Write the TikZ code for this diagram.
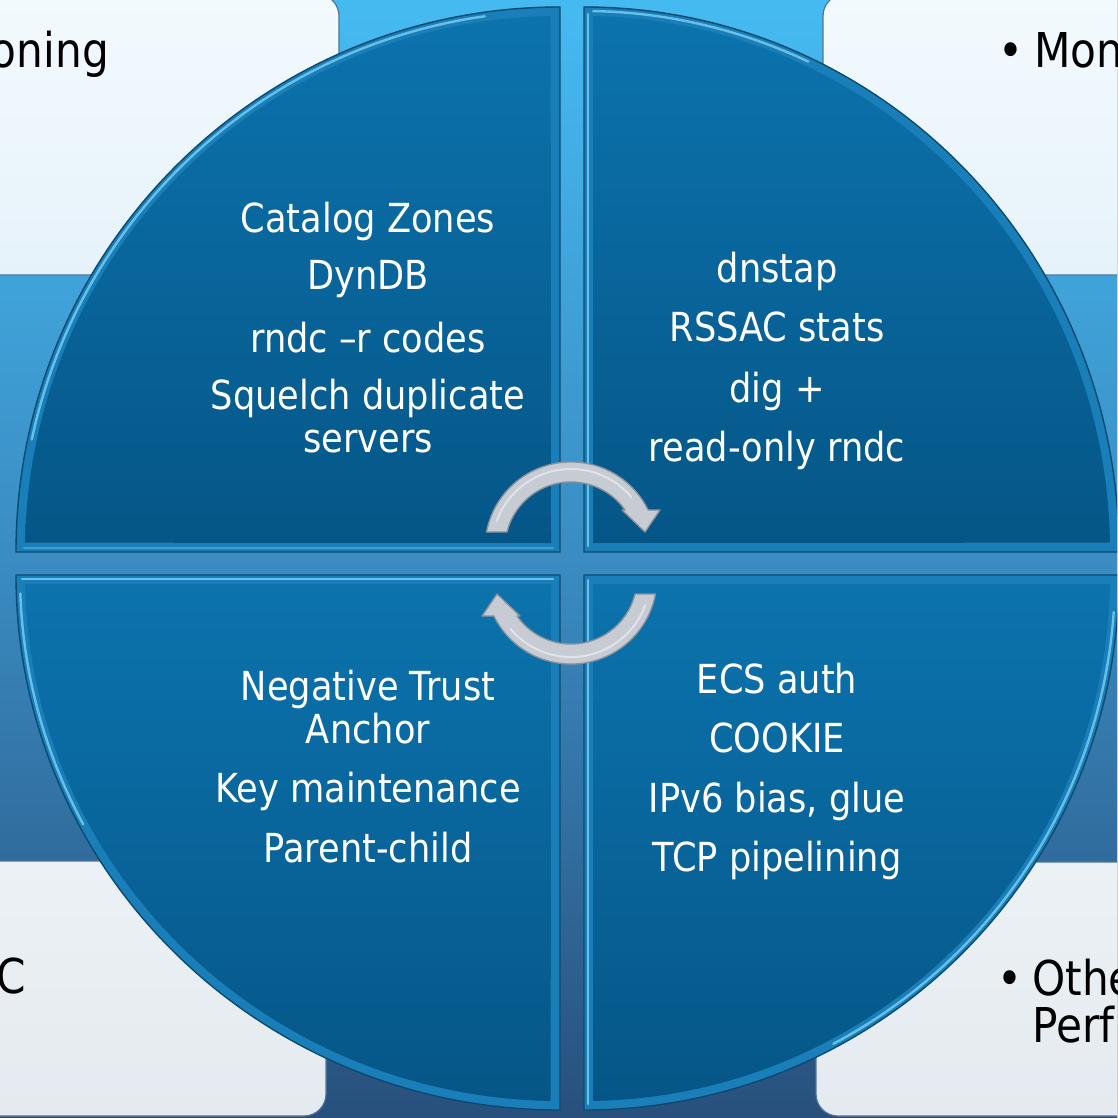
\documentclass[tikz,border=0pt]{standalone}
\usepackage{fontspec}
\setmainfont{DejaVu Sans}[FakeStretch=0.88]
\usetikzlibrary{calc}
\definecolor{bgtop}{HTML}{45BBF2}
\definecolor{bgmid}{HTML}{3A8CC2}
\definecolor{bgbot}{HTML}{284F7C}
\definecolor{boxtopA}{HTML}{F3FAFE}
\definecolor{boxtopB}{HTML}{E6F2FA}
\definecolor{boxbotA}{HTML}{ECF1F5}
\definecolor{boxbotB}{HTML}{E4EAEF}
\definecolor{boxline}{HTML}{4F7596}
\definecolor{qtop}{HTML}{0C73AD}
\definecolor{qbot}{HTML}{055687}
\definecolor{qbevel}{HTML}{1A7FB8}
\definecolor{qline}{HTML}{0A4A72}
\definecolor{qhl}{HTML}{7CCFF5}
\definecolor{arrfill}{HTML}{C7CCD4}
\definecolor{arrline}{HTML}{8A919B}
\begin{document}
\begin{tikzpicture}[x=1pt,y=-1pt,
  cornerbox/.style={rounded corners=22pt, draw=boxline, line width=1.2pt},
  boxup/.style={cornerbox, top color=boxtopA, bottom color=boxtopB},
  boxdown/.style={cornerbox, top color=boxbotA, bottom color=boxbotB},
  quadbevel/.style={fill=qbevel, draw=qline, line width=1.4pt},
  quadface/.style={top color=qtop, bottom color=qbot},
  hl/.style={draw=qhl, line width=2.4pt, line cap=round, opacity=0.8},
  arrowshape/.style={fill=arrfill, draw=arrline, line width=1.3pt, line join=round},
  qtext/.style={text=white, font=\fontsize{40}{43}\selectfont, anchor=base, inner sep=0pt},
  ctext/.style={text=black, font=\fontsize{48}{52}\selectfont, anchor=base west, inner sep=0pt}]
\useasboundingbox (0,0) rectangle (1117,1118);
\clip (0,0) rectangle (1117,1118);
% background
\fill[top color=bgtop, bottom color=bgbot, middle color=bgmid] (-5,-5) rectangle (1122,1123);
% corner boxes
\path[boxup] (-40,-6) rectangle (339,275);
\path[boxup] (823,-6) rectangle (1160,275);
\path[boxdown] (-40,861) rectangle (326,1116);
\path[boxdown] (816,862) rectangle (1160,1116);
% quadrants: outer (bevel) and inner face
% top-left
\path[quadbevel] (560,552) -- (16,552) arc[start angle=180, end angle=270, x radius=544, y radius=545] -- cycle;
\path[quadface] (551,543) -- ($(560,552)+(181:535 and 536)$) arc[start angle=181, end angle=269, x radius=535, y radius=536] -- cycle;
% top-right
\path[quadbevel] (584,552) -- (584,7) arc[start angle=270, end angle=360, x radius=535, y radius=545] -- cycle;
\path[quadface] (593,543) -- ($(584,552)+(271:526 and 536)$) arc[start angle=271, end angle=359, x radius=526, y radius=536] -- cycle;
% bottom-right
\path[quadbevel] (584,575) -- (1119,575) arc[start angle=0, end angle=90, x radius=535, y radius=535] -- cycle;
\path[quadface] (593,584) -- ($(584,575)+(1:526 and 526)$) arc[start angle=1, end angle=89, x radius=526, y radius=526] -- cycle;
% bottom-left
\path[quadbevel] (560,575) -- (560,1110) arc[start angle=90, end angle=180, x radius=544, y radius=535] -- cycle;
\path[quadface] (551,584) -- ($(560,575)+(91:535 and 526)$) arc[start angle=91, end angle=179, x radius=535, y radius=526] -- cycle;
% bevel highlights
\draw[hl] ($(560,552)+(192:540 and 541)$) arc[start angle=192, end angle=262, x radius=540, y radius=541];
\draw[hl, opacity=0.4] (24,548) -- (553,548);
\draw[hl] (588,546) -- (588,14);
\draw[hl] ($(584,552)+(271:531 and 541)$) arc[start angle=271, end angle=295, x radius=531, y radius=541];
\draw[hl] (22,579) -- (553,579);
\draw[hl] ($(560,575)+(152:540 and 531)$) arc[start angle=152, end angle=178, x radius=540, y radius=531];
\draw[hl] (588,580) -- (588,1104);
\draw[hl] ($(584,575)+(4:531 and 531)$) arc[start angle=4, end angle=62, x radius=531, y radius=531];
% circular arrows
\path[arrowshape] (486.5,532) arc[start angle=-169.3, end angle=-26.2, radius=86]
  -- (660,510) -- (645,532) -- (622,510) -- (625,510)
  arc[start angle=-35.1, end angle=-166, radius=66] -- cycle;
\draw[white, opacity=0.45, line width=2pt, line cap=round] (571,548) ++(-160:79) arc[start angle=-160, end angle=-40, radius=79];
\path[arrowshape, rotate around={180:(571,563)}] (486.5,532) arc[start angle=-169.3, end angle=-26.2, radius=86]
  -- (660,510) -- (645,532) -- (622,510) -- (625,510)
  arc[start angle=-35.1, end angle=-166, radius=66] -- cycle;
\draw[white, opacity=0.45, line width=2pt, line cap=round, rotate around={180:(571,563)}] (571,548) ++(-160:79) arc[start angle=-160, end angle=-40, radius=79];
% quadrant texts
\node[qtext] (tl1) at (368,232) {Catalog Zones};
\node[qtext] (tl2) at (368,289) {DynDB};
\node[qtext] (tl3) at (368,352) {rndc –r codes};
\node[qtext] (tl4) at (368,409) {Squelch duplicate};
\node[qtext] (tl5) at (368,452) {servers};
\node[qtext] (tr1) at (777,282) {dnstap};
\node[qtext] (tr2) at (777,341) {RSSAC stats};
\node[qtext] (tr3) at (777,402) {dig +};
\node[qtext] (tr4) at (777,461) {read-only rndc};
\node[qtext] (bl1) at (368,700) {Negative Trust};
\node[qtext] (bl2) at (368,743) {Anchor};
\node[qtext] (bl3) at (368,802) {Key maintenance};
\node[qtext] (bl4) at (368,862) {Parent-child};
\node[qtext] (br1) at (777,693) {ECS auth};
\node[qtext] (br2) at (777,752) {COOKIE};
\node[qtext] (br3) at (777,812) {IPv6 bias, glue};
\node[qtext] (br4) at (777,871) {TCP pipelining};
% corner texts (cropped at the picture's edges, as in the reference)
\node[ctext, anchor=base east] (c1) at (109,68) {oning};
\node[ctext, anchor=base] (c2b) at (1011,68) {•};
\node[ctext] (c2) at (1034,68) {Mon};
\node[ctext] (c3) at (-4,993) {C};
\node[ctext, anchor=base] (c4b) at (1010,995) {•};
\node[ctext] (c4) at (1032,995) {Othe};
\node[ctext] (c5) at (1032,1042) {Perf};
\end{tikzpicture}
\end{document}
